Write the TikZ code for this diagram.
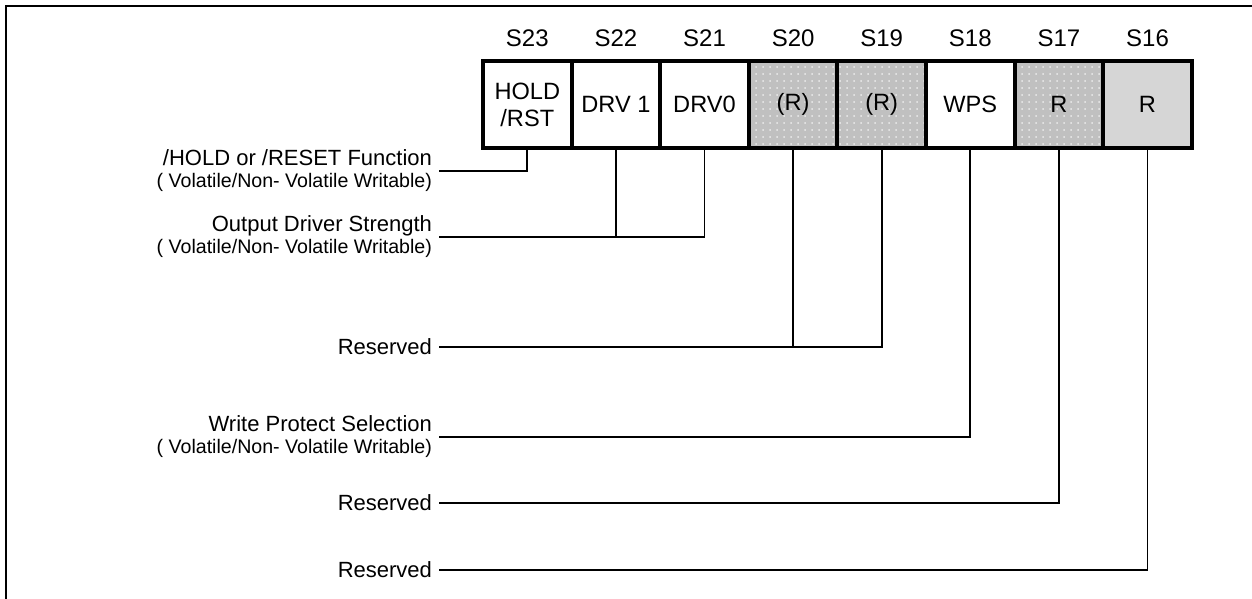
\documentclass[tikz,border=0pt]{standalone}
\usepackage{fontspec}
\setmainfont{Liberation Sans}
\usetikzlibrary{positioning, patterns.meta}
\definecolor{res-gray}{RGB}{192,192,192}
\definecolor{lite-gray}{RGB}{214,214,214}
\definecolor{dot-gray}{RGB}{236,236,236}
\newcommand{\subtxt}{\fontsize{9.8}{10}\selectfont}

\begin{document}
\begin{tikzpicture}[x=0.5pt, y=-0.5pt,
    cell/.style={rectangle, draw=black, line width=2pt, minimum width=44.3pt, minimum height=43.5pt, inner sep=0pt, align=center, font=\fontsize{11.8}{13.5}\selectfont},
    dotcell/.style={cell, preaction={fill=res-gray}, preaction={pattern={Dots[distance=3.5pt, radius=0.5pt]}, pattern color=dot-gray}},
    bitname/.style={font=\fontsize{12}{12}\selectfont, inner sep=0pt},
    fieldlabel/.style={anchor=east, align=right, font=\fontsize{11}{11}\selectfont},
    wire/.style={line width=0.9pt, black}]

    \useasboundingbox (0,0) rectangle (1252,599);

    % Frame (top and left edge)
    \draw[line width=1.1pt] (6,599) -- (6,6) -- (1252,6);

    % Status register bits S23 ... S16
    \node[cell] (s23) at (527.3,104.5) {HOLD\\/RST};
    \node[cell] (s22) at (615.9,104.5) {DRV 1};
    \node[cell] (s21) at (704.5,104.5) {DRV0};
    \node[dotcell] (s20) at (793.1,104.5) {(R)};
    \node[dotcell] (s19) at (881.7,104.5) {(R)};
    \node[cell] (s18) at (970.3,104.5) {WPS};
    \node[dotcell] (s17) at (1058.9,104.5) {R};
    \node[cell, fill=lite-gray] (s16) at (1147.5,104.5) {R};

    % Bit names above
    \node[bitname] (n23) at (527.3,38) {S23};
    \node[bitname] (n22) at (615.9,38) {S22};
    \node[bitname] (n21) at (704.5,38) {S21};
    \node[bitname] (n20) at (793.1,38) {S20};
    \node[bitname] (n19) at (881.7,38) {S19};
    \node[bitname] (n18) at (970.3,38) {S18};
    \node[bitname] (n17) at (1058.9,38) {S17};
    \node[bitname] (n16) at (1147.5,38) {S16};

    % Field descriptions on the left
    \node[fieldlabel] (lhold) at (439,171) {/HOLD or /RESET Function\\{\subtxt ( Volatile/Non- Volatile Writable)}};
    \node[fieldlabel] (ldrv) at (439,237) {Output Driver Strength\\{\subtxt ( Volatile/Non- Volatile Writable)}};
    \node[fieldlabel] (lres1) at (439,347) {Reserved};
    \node[fieldlabel] (lwps) at (439,437) {Write Protect Selection\\{\subtxt ( Volatile/Non- Volatile Writable)}};
    \node[fieldlabel] (lres2) at (439,503) {Reserved};
    \node[fieldlabel] (lres3) at (439,570) {Reserved};

    % Connectors from bits to descriptions
    \draw[wire] (lhold.east) -| (s23.south);
    \draw[wire] (ldrv.east) -| (s21.south);
    \draw[wire] (s22.south) -- (s22.south |- ldrv.east);
    \draw[wire] (lres1.east) -| (s19.south);
    \draw[wire] (s20.south) -- (s20.south |- lres1.east);
    \draw[wire] (lwps.east) -| (s18.south);
    \draw[wire] (lres2.east) -| (s17.south);
    \draw[wire] (lres3.east) -| (s16.south);
\end{tikzpicture}
\end{document}
